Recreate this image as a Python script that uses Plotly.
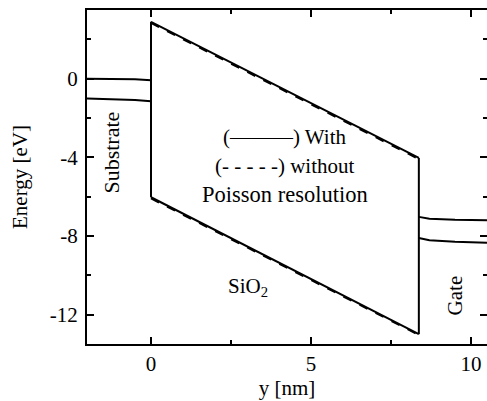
import plotly.graph_objects as go

# ---- data ----
x_sub = [-2.0, -1.0, -0.5, 0.0]
ec_sub = [0.0, -0.01, -0.03, -0.07]
ev_sub = [-1.0, -1.03, -1.08, -1.15]

x_ox = [0.0, 8.37]
ec_ox = [2.9, -4.03]
ev_ox = [-6.03, -13.0]
ec_ox_nop = [2.84, -4.09]
ev_ox_nop = [-6.09, -13.04]

x_gate = [8.37, 8.7, 9.5, 10.5]
ec_gate = [-7.03, -7.13, -7.18, -7.2]
ev_gate = [-8.1, -8.22, -8.3, -8.35]

x_ticks = [0, 5, 10]
y_ticks = [0, -4, -8, -12]

FONT = "Liberation Serif"
fig = go.Figure()

def line(x, y, dash="solid", w=2):
    fig.add_trace(go.Scatter(x=x, y=y, mode="lines", showlegend=False,
                             line=dict(color="black", width=w, dash=dash),
                             hoverinfo="skip"))

# dashed (without Poisson)
line(x_ox, ec_ox_nop, "dash", 2)
line(x_ox, ev_ox_nop, "dash", 2)
# solid (with Poisson)
line(x_sub, ec_sub)
line(x_sub, ev_sub)
line(x_ox, ec_ox)
line(x_ox, ev_ox)
line([x_ox[0], x_ox[0]], [ec_ox[0], ev_ox[0]])
line([x_ox[-1], x_ox[-1]], [ec_ox[-1], ev_ox[-1]])
line(x_gate, ec_gate)
line(x_gate, ev_gate)

ann_font = dict(family=FONT, size=21, color="black")
fig.add_annotation(x=-1.22, y=-3.76, text="Substrate", textangle=-90,
                   showarrow=False, font=dict(family=FONT, size=22, color="black"))
fig.add_annotation(x=9.53, y=-11.03, text="Gate", textangle=-90,
                   showarrow=False, font=dict(family=FONT, size=21, color="black"))
fig.add_annotation(x=3.03, y=-10.6, text="SiO<sub>2</sub>", showarrow=False, font=ann_font)
fig.add_annotation(x=4.19, y=-2.95, text="(\u2014\u2014\u2014) With", showarrow=False, font=ann_font)
fig.add_annotation(x=4.19, y=-4.42, text="(- - - - -) without", showarrow=False, font=ann_font)
fig.add_annotation(x=4.19, y=-5.9, text="Poisson resolution", showarrow=False,
                   font=dict(family=FONT, size=22.5, color="black"))

axis_common = dict(showgrid=False, zeroline=False, showline=True, linecolor="black",
                   linewidth=2, mirror="ticks", ticks="inside", ticklen=7,
                   tickwidth=1.5, tickcolor="black", automargin=False,
                   tickfont=dict(family=FONT, size=21, color="black"))

fig.update_xaxes(range=[-2, 10.5], tickvals=x_ticks, ticktext=[str(v) for v in x_ticks],
                 minor=dict(ticks="inside", ticklen=4, tickcolor="black", dtick=2.5, tick0=0),
                 title=dict(text="y [nm]", font=dict(family=FONT, size=21, color="black"), standoff=0),
                 **axis_common)
fig.update_yaxes(range=[-13.5, 3.5], tickvals=y_ticks, ticktext=[str(v) for v in y_ticks],
                 minor=dict(ticks="inside", ticklen=4, tickcolor="black", dtick=2, tick0=0),
                 title=dict(text="Energy [eV]", font=dict(family=FONT, size=21, color="black"), standoff=16),
                 ticklabelstandoff=3,
                 **axis_common)

fig.update_layout(width=487, height=401, margin=dict(l=87, r=0, t=10, b=57),
                  plot_bgcolor="white", paper_bgcolor="white",
                  font=dict(family=FONT, color="black"))

fig.write_html("out.html", config={"displayModeBar": False},
               post_script="document.body.style.margin='0';document.body.style.overflow='hidden';")
